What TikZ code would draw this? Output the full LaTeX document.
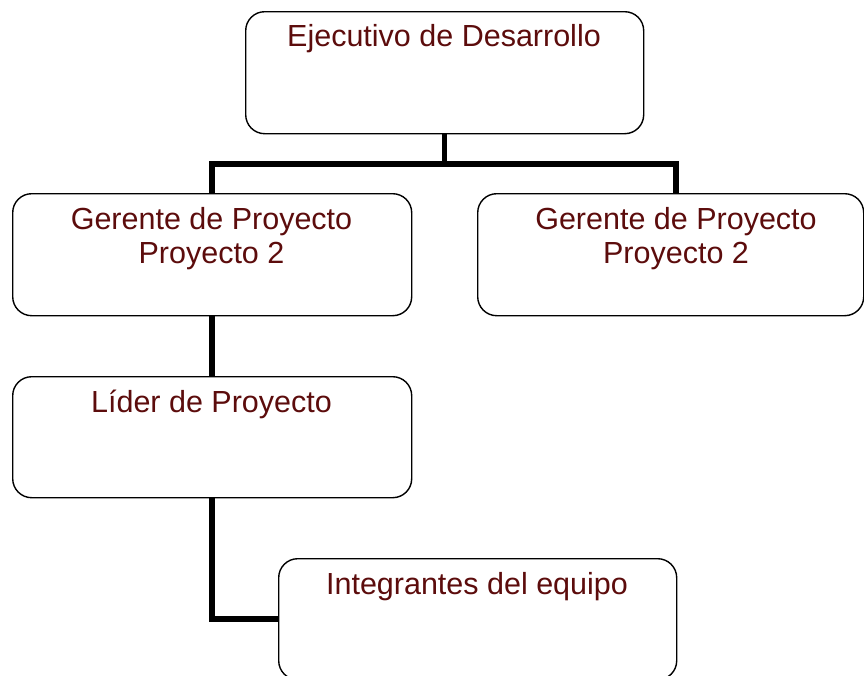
\documentclass[tikz,border=0pt]{standalone}
\usepackage{fontspec}
\setmainfont{Liberation Sans}
\definecolor{txtred}{RGB}{92,12,12}
\begin{document}
\begin{tikzpicture}[x=1pt,y=-1pt,
  box/.style n args={2}{draw=black, line width=1.4pt, rounded corners=19pt,
    minimum width=#1, minimum height=#2, inner sep=0pt, anchor=north west},
  lbl/.style={text=txtred, font=\fontsize{30.5}{34}\selectfont, anchor=base, inner sep=0pt},
  conn/.style={draw=black, line width=5.5pt, line join=miter, line cap=butt}]
\useasboundingbox (0,0) rectangle (864,675);
\clip (0,0) rectangle (864,675);
% boxes
\node[box={398pt}{122pt}] (ejec) at (245,11) {};
\node[box={399pt}{122pt}] (ger1) at (12,193) {};
\node[box={386pt}{122pt}] (ger2) at (477,193) {};
\node[box={399pt}{121pt}] (lider) at (12,376) {};
\node[box={398pt}{121pt}] (integ) at (278,558) {};
% labels
\node[lbl] (tejec) at (444,46) {Ejecutivo de Desarrollo};
\node[lbl] (tger1a) at (211.5,229) {Gerente de Proyecto};
\node[lbl] (tger1b) at (211.5,263) {Proyecto 2};
\node[lbl] (tger2a) at (676,229) {Gerente de Proyecto};
\node[lbl] (tger2b) at (676,263) {Proyecto 2};
\node[lbl] (tlider) at (211.5,412) {Líder de Proyecto};
\node[lbl] (tinteg) at (477,594) {Integrantes del equipo};
% connectors
\coordinate (g2top) at (676,193);
\coordinate (hbar) at (0,164);
\draw[conn] (ejec.south) -- (ejec.south |- hbar);
\draw[conn] (ger1.north) -- (ger1.north |- hbar) -| (g2top);
\draw[conn] (ger1.south) -- (lider.north);
\draw[conn] (lider.south) |- (integ.west);
\end{tikzpicture}
\end{document}
